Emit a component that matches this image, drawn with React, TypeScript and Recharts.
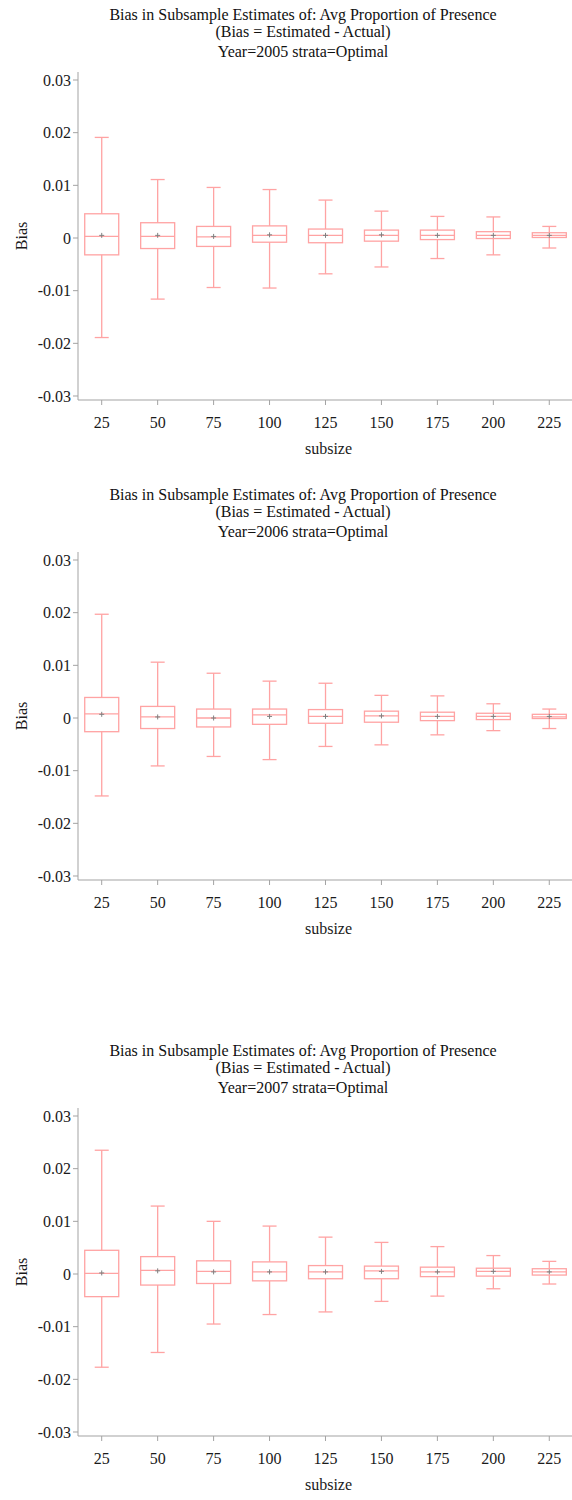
import React from "react";
import { ComposedChart, Bar, XAxis, YAxis, Label } from "recharts";

const subsizes = [25, 50, 75, 100, 125, 150, 175, 200, 225];
const biasTicks = [-0.03, -0.02, -0.01, 0, 0.01, 0.02, 0.03];

// 2005
const hi2005 = [0.0191, 0.0111, 0.0096, 0.0092, 0.0072, 0.0051, 0.0041, 0.004, 0.0022];
const q3_2005 = [0.0046, 0.0029, 0.0022, 0.0023, 0.0017, 0.0015, 0.0015, 0.0012, 0.001];
const med2005 = [0.0003, 0.0003, 0.0002, 0.0005, 0.0005, 0.0005, 0.0005, 0.0005, 0.0005];
const q1_2005 = [-0.0032, -0.002, -0.0016, -0.0008, -0.0009, -0.0006, -0.0003, -0.0001, 0.0001];
const lo2005 = [-0.0189, -0.0116, -0.0094, -0.0095, -0.0068, -0.0055, -0.0039, -0.0032, -0.0019];
const mean2005 = [0.0005, 0.0005, 0.0003, 0.0006, 0.0005, 0.0006, 0.0005, 0.0005, 0.0005];

// 2006
const hi2006 = [0.0197, 0.0106, 0.0085, 0.007, 0.0066, 0.0043, 0.0042, 0.0027, 0.0017];
const q3_2006 = [0.0039, 0.0022, 0.0017, 0.0017, 0.0016, 0.0013, 0.0011, 0.0009, 0.0007];
const med2006 = [0.0008, 0.0002, 0.0, 0.0006, 0.0003, 0.0004, 0.0003, 0.0003, 0.0002];
const q1_2006 = [-0.0026, -0.002, -0.0017, -0.0012, -0.001, -0.0008, -0.0005, -0.0003, -0.0001];
const lo2006 = [-0.0148, -0.0091, -0.0073, -0.0079, -0.0054, -0.0051, -0.0032, -0.0024, -0.002];
const mean2006 = [0.0007, 0.0002, 0.0, 0.0003, 0.0003, 0.0004, 0.0003, 0.0003, 0.0003];

// 2007
const hi2007 = [0.0235, 0.0129, 0.01, 0.0091, 0.007, 0.006, 0.0052, 0.0035, 0.0024];
const q3_2007 = [0.0045, 0.0033, 0.0025, 0.0023, 0.0016, 0.0015, 0.0013, 0.0011, 0.001];
const med2007 = [0.0001, 0.0007, 0.0005, 0.0004, 0.0004, 0.0006, 0.0004, 0.0005, 0.0004];
const q1_2007 = [-0.0043, -0.0021, -0.0018, -0.0013, -0.0009, -0.0009, -0.0005, -0.0004, -0.0002];
const lo2007 = [-0.0177, -0.0149, -0.0095, -0.0077, -0.0072, -0.0052, -0.0042, -0.0028, -0.0019];
const mean2007 = [0.0002, 0.0006, 0.0004, 0.0004, 0.0004, 0.0005, 0.0004, 0.0005, 0.0004];

const FONT = "Liberation Serif, Times New Roman, serif";
const PINK = "#ffa3a3";
const AXIS = "#a3a3a3";

const makeRows = (lo: number[], q1: number[], med: number[], q3: number[], hi: number[], mean: number[]) =>
  subsizes.map((s, i) => ({ subsize: s, lo: lo[i], q1: q1[i], med: med[i], q3: q3[i], hi: hi[i], mean: mean[i] }));

// box drawn inside the ranged bar [lo, hi]; inner values mapped linearly on the bar's pixel span
const BoxShape = (props: any) => {
  const { x, y, width, height, payload } = props;
  const top = Math.min(y, y + height);
  const span = Math.abs(height);
  const range = payload.hi - payload.lo || 1;
  const py = (v: number) => top + ((payload.hi - v) / range) * span;
  const cx = x + width / 2;
  const cap = 7;
  const yHi = py(payload.hi);
  const yLo = py(payload.lo);
  const yQ3 = py(payload.q3);
  const yQ1 = py(payload.q1);
  const yMed = py(payload.med);
  const yMean = py(payload.mean);
  return (
    <g>
      <line x1={cx} x2={cx} y1={yHi} y2={yQ3} stroke={PINK} strokeWidth={1.3} />
      <line x1={cx} x2={cx} y1={yQ1} y2={yLo} stroke={PINK} strokeWidth={1.3} />
      <line x1={cx - cap} x2={cx + cap} y1={yHi} y2={yHi} stroke={PINK} strokeWidth={1.3} />
      <line x1={cx - cap} x2={cx + cap} y1={yLo} y2={yLo} stroke={PINK} strokeWidth={1.3} />
      <rect x={x} y={yQ3} width={width} height={Math.max(yQ1 - yQ3, 1)} fill="none" stroke={PINK} strokeWidth={1.3} />
      <line x1={x} x2={x + width} y1={yMed} y2={yMed} stroke={PINK} strokeWidth={1.3} />
      <line x1={cx - 2.5} x2={cx + 2.5} y1={yMean} y2={yMean} stroke="#808080" strokeWidth={1} />
      <line x1={cx} x2={cx} y1={yMean - 2.5} y2={yMean + 2.5} stroke="#808080" strokeWidth={1} />
    </g>
  );
};

const tickStyle = { fontSize: 16, fill: "#1a1a1a" };

const BoxPanel = ({ top, year, rows }: { top: number; year: number; rows: any[] }) => {
  return (
    <>
      <div style={{ position: "absolute", left: 0, width: 606, top: top - 66, fontSize: 16, color: "#111", textAlign: "center", lineHeight: "18px" }}>
        <div style={{ position: "absolute", left: 0, right: 0, top: 0 }}>Bias in Subsample Estimates of: Avg Proportion of Presence</div>
        <div style={{ position: "absolute", left: 0, right: 0, top: 17 }}>(Bias = Estimated - Actual)</div>
        <div style={{ position: "absolute", left: 0, right: 0, top: 37 }}>{`Year=${year} strata=Optimal`}</div>
      </div>
      <div style={{ position: "absolute", left: 0, top: top - 10 }}>
        <ComposedChart width={600} height={400} data={rows} margin={{ top: 10, right: 27, bottom: 0, left: 0 }} style={{ fontFamily: FONT }}>
          <XAxis
            xAxisId="frame"
            orientation="top"
            type="number"
            dataKey="subsize"
            domain={[14.41, 235.6]}
            allowDataOverflow
            tick={false}
            tickLine={false}
            height={0}
            axisLine={{ stroke: AXIS }}
          />
          <XAxis
            type="number"
            dataKey="subsize"
            domain={[14.41, 235.6]}
            allowDataOverflow
            ticks={subsizes}
            interval={0}
            height={62}
            tickSize={5}
            tickMargin={11.6}
            axisLine={{ stroke: AXIS }}
            tickLine={{ stroke: AXIS }}
            tick={tickStyle}
          >
            <Label
              content={(p: any) => {
                const vb = p.viewBox || {};
                return (
                  <text x={vb.x + vb.width / 2 + 3} y={vb.y + 53.8} textAnchor="middle" fontSize={16} fill="#1a1a1a">
                    subsize
                  </text>
                );
              }}
            />
          </XAxis>
          <YAxis
            type="number"
            domain={[-0.03076, 0.03152]}
            allowDataOverflow
            ticks={biasTicks}
            interval={0}
            width={78}
            tickSize={5}
            tickMargin={2}
            tickFormatter={(v: number) => (v === 0 ? "0" : String(v))}
            axisLine={{ stroke: AXIS }}
            tickLine={{ stroke: AXIS }}
            tick={tickStyle}
          >
            <Label
              content={(p: any) => {
                const vb = p.viewBox || {};
                const cy = vb.y + vb.height / 2;
                return (
                  <text transform={`translate(21.7,${cy}) rotate(-90)`} textAnchor="middle" dy="0.35em" fontSize={16} fill="#1a1a1a">
                    Bias
                  </text>
                );
              }}
            />
          </YAxis>
          <Bar
            dataKey={(d: any) => [d.lo, d.hi]}
            barSize={34}
            shape={BoxShape}
            isAnimationActive={false}
          />
        </ComposedChart>
      </div>
    </>
  );
};

export default function App() {
  return (
    <div style={{ position: "absolute", left: 0, top: 0, width: 572, height: 1500, overflow: "hidden", background: "#fff", fontFamily: FONT }}>
      <BoxPanel top={71.5} year={2005} rows={makeRows(lo2005, q1_2005, med2005, q3_2005, hi2005, mean2005)} />
      <BoxPanel top={552.3} year={2006} rows={makeRows(lo2006, q1_2006, med2006, q3_2006, hi2006, mean2006)} />
      <BoxPanel top={1107.7} year={2007} rows={makeRows(lo2007, q1_2007, med2007, q3_2007, hi2007, mean2007)} />
    </div>
  );
}
